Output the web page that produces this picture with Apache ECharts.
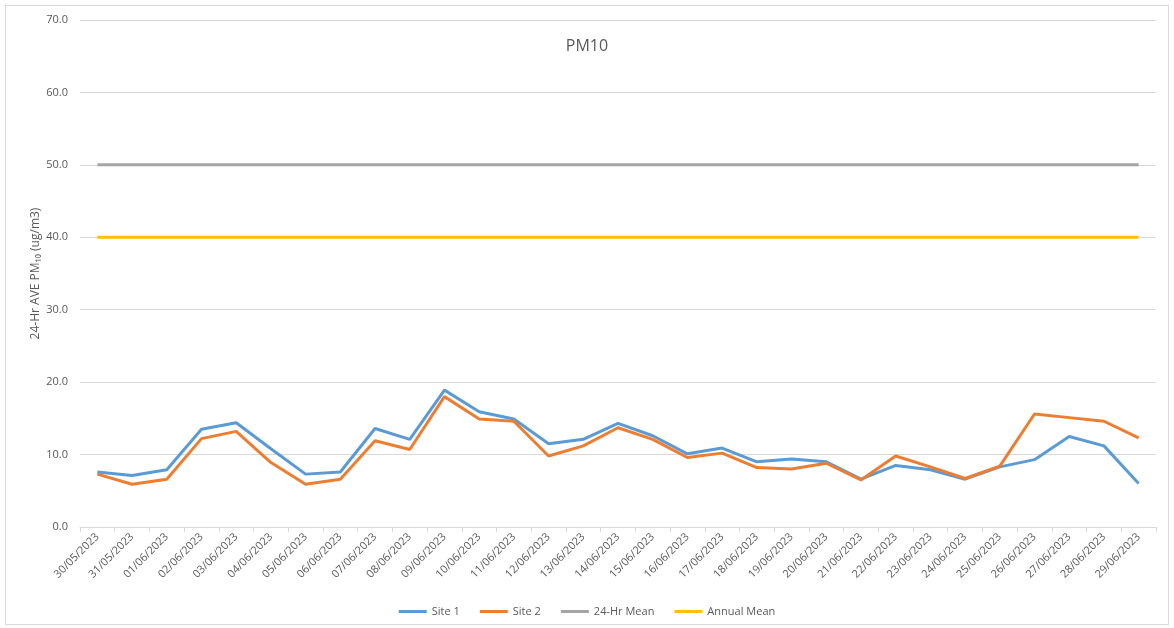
<!DOCTYPE html>
<html>
<head>
<meta charset="utf-8">
<script src="https://cdn.jsdelivr.net/npm/echarts@6/dist/echarts.min.js"></script>
<style>
  html, body { margin: 0; padding: 0; background: #fff; }
  #frame { position: absolute; left: 5px; top: 5px; width: 1162px; height: 618px; border: 1px solid #d9d9d9; }
  #chart { position: absolute; left: 0; top: 0; width: 1174px; height: 628px; }
</style>
</head>
<body>
<div id="frame"></div>
<div id="chart"></div>
<script>
// dates on the x axis
const dates = [
  '30/05/2023', '31/05/2023', '01/06/2023', '02/06/2023', '03/06/2023', '04/06/2023',
  '05/06/2023', '06/06/2023', '07/06/2023', '08/06/2023', '09/06/2023', '10/06/2023',
  '11/06/2023', '12/06/2023', '13/06/2023', '14/06/2023', '15/06/2023', '16/06/2023',
  '17/06/2023', '18/06/2023', '19/06/2023', '20/06/2023', '21/06/2023', '22/06/2023',
  '23/06/2023', '24/06/2023', '25/06/2023', '26/06/2023', '27/06/2023', '28/06/2023',
  '29/06/2023'
]

// values
const site1 = [
  7.6, 7.1, 7.9, 13.5, 14.4, 10.8, 7.3, 7.6, 13.6, 12.1, 18.9, 15.9,
  14.9, 11.5, 12.1, 14.3, 12.6, 10.1, 10.9, 9.0, 9.4, 9.0, 6.6, 8.5,
  7.9, 6.6, 8.3, 9.3, 12.5, 11.2, 6.0
]
const site2 = [
  7.3, 5.9, 6.6, 12.2, 13.2, 8.9, 5.9, 6.6, 11.9, 10.7, 18.0, 14.9,
  14.6, 9.8, 11.2, 13.7, 12.1, 9.6, 10.2, 8.2, 8.0, 8.8, 6.5, 9.8,
  8.3, 6.7, 8.4, 15.6, 15.1, 14.6, 12.3
]
const mean24 = [
  50, 50, 50, 50, 50, 50, 50, 50, 50, 50, 50, 50, 50, 50, 50, 50,
  50, 50, 50, 50, 50, 50, 50, 50, 50, 50, 50, 50, 50, 50, 50
]
const annualMean = [
  40, 40, 40, 40, 40, 40, 40, 40, 40, 40, 40, 40, 40, 40, 40, 40,
  40, 40, 40, 40, 40, 40, 40, 40, 40, 40, 40, 40, 40, 40, 40
]

const textColor = '#595959'
const font = 'Open Sans'

const chart = echarts.init(document.getElementById('chart'))

const lineSeries = (name, data, color) => ({
  name,
  type: 'line',
  data,
  symbol: 'none',
  smooth: false,
  lineStyle: { color, width: 3 },
  itemStyle: { color },
  emphasis: { disabled: true }
})

chart.setOption({
  animation: false,
  textStyle: { fontFamily: font },
  title: {
    text: 'PM10',
    left: 'center',
    top: 33,
    textStyle: { color: textColor, fontSize: 16, fontWeight: 'normal', fontFamily: font }
  },
  legend: {
    bottom: 6,
    left: 'center',
    itemWidth: 28,
    itemHeight: 3,
    itemGap: 20,
    icon: 'rect',
    textStyle: { color: textColor, fontSize: 11, fontFamily: font },
    data: ['Site 1', 'Site 2', '24-Hr Mean', 'Annual Mean']
  },
  grid: {
    left: 80,
    right: 18,
    top: 20,
    bottom: 101
  },
  xAxis: {
    type: 'category',
    data: dates,
    boundaryGap: true,
    axisLine: { lineStyle: { color: '#d9d9d9', width: 1 } },
    axisTick: { show: true, length: 5, lineStyle: { color: '#d9d9d9' } },
    axisLabel: {
      rotate: 45,
      interval: 0,
      color: textColor,
      fontSize: 11,
      fontFamily: font,
      margin: 8
    }
  },
  yAxis: {
    type: 'value',
    min: 0,
    max: 70,
    interval: 10,
    name: '24-Hr AVE PM\u2081\u2080 (ug/m3)',
    nameLocation: 'middle',
    nameGap: 38,
    nameMoveOverlap: false,
    nameTextStyle: { color: textColor, fontSize: 12, fontFamily: font },
    axisLine: { show: false },
    axisTick: { show: false },
    axisLabel: {
      color: textColor,
      fontSize: 11,
      fontFamily: font,
      margin: 12,
      formatter: v => v.toFixed(1)
    },
    splitLine: { lineStyle: { color: '#d9d9d9', width: 1 } }
  },
  series: [
    lineSeries('Site 1', site1, '#5b9bd5'),
    lineSeries('Site 2', site2, '#ed7d31'),
    lineSeries('24-Hr Mean', mean24, '#a5a5a5'),
    lineSeries('Annual Mean', annualMean, '#ffc000')
  ]
})
</script>
</body>
</html>
